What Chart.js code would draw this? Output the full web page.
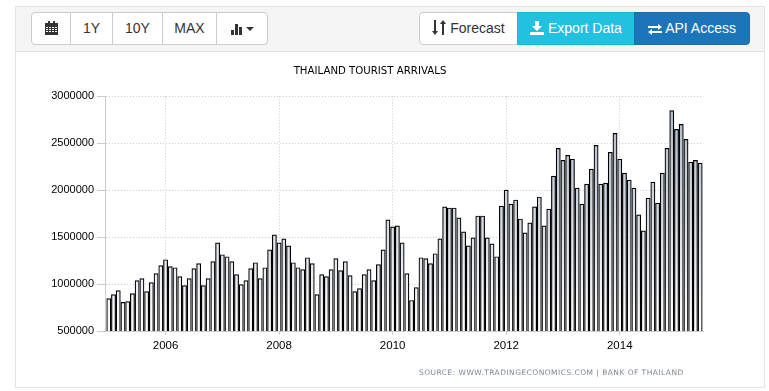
<!DOCTYPE html>
<html>
<head>
<meta charset="utf-8">
<script src="https://cdn.jsdelivr.net/npm/chart.js@4"></script>
<style>
html, body { margin: 0; padding: 0; background: #fff; width: 769px; height: 391px; overflow: hidden; font-family: "Liberation Sans", Arial, sans-serif; }
.panel { position: absolute; left: 15px; top: 6px; width: 748px; height: 380px; border: 1px solid #e3e3e3; }
.toolbar { position: absolute; left: 16px; top: 7px; width: 748px; height: 44px; background: #f5f5f5; border-bottom: 1px solid #e3e3e3; }
.btn { position: absolute; top: 12px; height: 33px; box-sizing: border-box; background: #fff; border: 1px solid #ccc; color: #333; font-size: 14px; line-height: 31px; text-align: center; white-space: nowrap; }
.btn svg { vertical-align: -2px; }
#chartWrap { position: absolute; left: 16px; top: 52px; width: 708px; height: 335px; }
#source { position: absolute; left: 419px; top: 368px; font: 7.5px "DejaVu Sans", sans-serif; letter-spacing: 0.46px; color: #7f8794; white-space: nowrap; }
</style>
</head>
<body>
<div class="panel"></div>
<div class="toolbar"></div>

<div class="btn" style="left:31px;width:40px;border-radius:4px 0 0 4px">
  <svg width="13" height="14" viewBox="0 0 13 14"><path fill="#333" d="M0 2h3V0h2v2h3V0h2v2h3v12H0z"/><path fill="#fff" d="M1 6h2v1H1zM4 6h2v1H4zM7 6h2v1H7zM10 6h2v1h-2zM1 8h2v1H1zM4 8h2v1H4zM7 8h2v1H7zM10 8h2v1h-2zM1 10h2v1H1zM4 10h2v1H4zM7 10h2v1H7zM10 10h2v1h-2z"/></svg>
</div>
<div class="btn" style="left:70px;width:43px">1Y</div>
<div class="btn" style="left:112px;width:51px">10Y</div>
<div class="btn" style="left:162px;width:55px">MAX</div>
<div class="btn" style="left:216px;width:52px;border-radius:0 4px 4px 0">
  <svg width="23" height="13" viewBox="0 0 23 13"><path fill="#333" d="M0 8h3v5H0zM4 2h3v11H4zM8 5h3v8H8zM15 5h8l-4 4z"/></svg>
</div>

<div class="btn" style="left:419px;width:99px;border-radius:4px 0 0 4px">
  <svg width="14" height="15" viewBox="0 0 14 15"><path fill="#333" d="M2 0h2v11h2l-3 4-3-4h2zM10 15h2V4h2l-3-4-3 4h2z"/></svg> Forecast
</div>
<div class="btn" style="left:517px;width:118px;background:#23c1e0;border-color:#1fb5d4;color:#fff">
  <svg width="14" height="14" viewBox="0 0 14 14"><path fill="#fff" d="M5 0h4v5h3l-5 5-5-5h3zM0 11h14v3H0z"/></svg> Export Data
</div>
<div class="btn" style="left:634px;width:116px;background:#1c75b9;border-color:#1a6dad;color:#fff;border-radius:0 4px 4px 0">
  <svg width="14" height="11" viewBox="0 0 14 11"><path fill="#fff" d="M0 2h10V0l4 3-4 3V4H0zM14 7H4V5L0 8l4 3V9h10z"/></svg> API Access
</div>

<div id="chartWrap"><canvas id="arrivalsChart" width="708" height="335"></canvas></div>
<div id="source">SOURCE: WWW.TRADINGECONOMICS.COM | BANK OF THAILAND</div>

<script>
// monthly arrivals, Jan 2005 to Jun 2015
const arrivals = [
    846000, 888000, 931000, 804000, 814000, 899000, 1037000, 1058000, 920000, 1015000, 1111000, 1196000,
    1259000, 1185000, 1174000, 1079000, 984000, 1058000, 1164000, 1217000, 984000, 1058000, 1238000, 1439000,
    1312000, 1291000, 1238000, 1100000, 994000, 1037000, 1164000, 1227000, 1058000, 1174000, 1365000, 1524000,
    1439000, 1482000, 1407000, 1227000, 1174000, 1153000, 1280000, 1217000, 888000, 1100000, 1079000, 1153000,
    1270000, 1143000, 1238000, 1090000, 920000, 952000, 1100000, 1153000, 1037000, 1206000, 1365000, 1683000,
    1609000, 1619000, 1439000, 1111000, 825000, 963000, 1280000, 1270000, 1217000, 1323000, 1482000, 1821000,
    1810000, 1810000, 1704000, 1556000, 1407000, 1492000, 1725000, 1725000, 1492000, 1429000, 1291000, 1831000,
    2001000, 1852000, 1895000, 1693000, 1545000, 1651000, 1821000, 1927000, 1619000, 1799000, 2149000, 2446000,
    2318000, 2371000, 2329000, 2022000, 1852000, 2064000, 2223000, 2477000, 2064000, 2075000, 2403000, 2604000,
    2329000, 2181000, 2107000, 2022000, 1736000, 1566000, 1916000, 2085000, 1863000, 2181000, 2446000, 2848000,
    2647000, 2700000, 2541000, 2297000, 2318000, 2287000
];
const xTickMonths = [12, 36, 60, 84, 108];
const xTickLabels = ["2006", "2008", "2010", "2012", "2014"];
const yTicks = [500000, 1000000, 1500000, 2000000, 2500000, 3000000];

const ctx = document.getElementById("arrivalsChart").getContext("2d");

// bars fade from slate at the top of the plot to white at the axis
function barFill(context) {
    const area = context.chart.chartArea;
    if (!area) {
        return "#c0cad6";
    }
    const gradient = context.chart.ctx.createLinearGradient(0, area.top, 0, area.bottom);
    gradient.addColorStop(0, "#a9b6c6");
    gradient.addColorStop(1, "#ffffff");
    return gradient;
}

new Chart(ctx, {
    type: "bar",
    data: {
        datasets: [{
            label: "Thailand Tourist Arrivals",
            data: arrivals.map((v, i) => ({ x: i, y: v })),
            backgroundColor: barFill,
            borderColor: "#000000",
            borderWidth: 1.2,
            borderSkipped: false,
            barThickness: 4.2,
        }],
    },
    options: {
        responsive: false,
        animation: false,
        layout: { padding: { left: 21, right: 21, top: 0, bottom: 0 } },
        scales: {
            x: {
                type: "linear",
                bounds: "data",
                offset: false,
                min: -0.8,
                max: 125.6,
                afterBuildTicks: scale => {
                    scale.ticks = xTickMonths.map(v => ({ value: v }));
                },
                afterFit: scale => {
                    scale.height = 56;
                },
                ticks: {
                    autoSkip: false,
                    maxRotation: 0,
                    color: "#000",
                    font: { family: "Liberation Sans", size: 11.5 },
                    padding: 4,
                    callback: value => xTickLabels[xTickMonths.indexOf(value)],
                },
                grid: {
                    offset: false,
                    color: "#cccccc",
                    tickColor: "#cccccc",
                    tickLength: 4,
                },
                border: { color: "#cccccc", width: 1, dash: [1, 2] },
            },
            y: {
                min: 500000,
                max: 3000000,
                afterBuildTicks: scale => {
                    scale.ticks = yTicks.map(v => ({ value: v }));
                },
                afterFit: scale => {
                    scale.width = 68;
                },
                ticks: {
                    color: "#000",
                    font: { family: "Liberation Sans", size: 11 },
                    padding: 3,
                    callback: value => String(value),
                },
                grid: {
                    color: "#cccccc",
                    tickColor: "#cccccc",
                    tickLength: 8,
                },
                border: { color: "#cccccc", width: 1, dash: [1, 2] },
            },
        },
        plugins: {
            legend: { display: false },
            tooltip: { enabled: false },
            title: {
                display: true,
                text: "THAILAND TOURIST ARRIVALS",
                color: "#000",
                font: { family: "DejaVu Sans", size: 10.2, weight: "normal" },
                padding: { top: 13, bottom: 19 },
            },
        },
    },
});
</script>
</body>
</html>
